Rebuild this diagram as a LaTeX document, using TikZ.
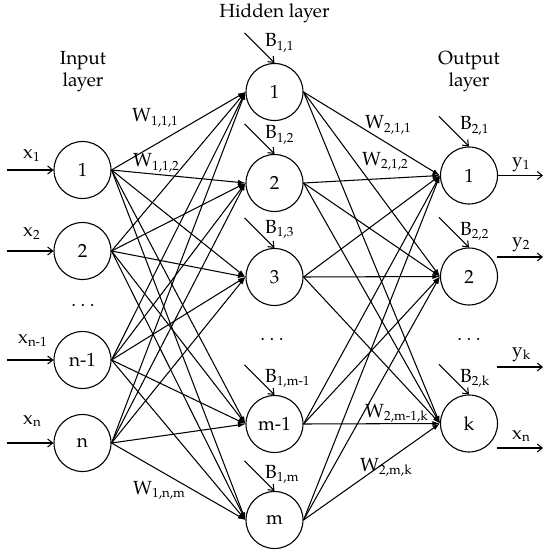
\documentclass[tikz,border=0pt]{standalone}
\usepackage{fontspec}
\setmainfont{TeX Gyre Pagella}
\usetikzlibrary{arrows.meta}
\newcommand{\spdots}{.\hspace{4.5pt}.\hspace{4.5pt}.}
\begin{document}
\begin{tikzpicture}[x=1pt,y=-1pt,
  every node/.style={font=\fontsize{19}{22}\selectfont},
  neuron/.style={draw, circle, minimum size=57pt, inner sep=0pt, line width=1.1pt},
  edge/.style={line width=1.05pt, -{Latex[length=7.5pt,width=5pt]}},
  barb/.style={line width=1.05pt, -{Straight Barb[length=5pt,width=8pt]}},
  lbl/.style={anchor=base west, inner sep=0pt},
  ttl/.style={anchor=base, inner sep=0pt}]
\useasboundingbox (0,0) rectangle (550,556);

% titles
\node[ttl] (thid) at (274.5,18) {Hidden layer};
\node[ttl] (tin1) at (83,65) {Input};
\node[ttl] (tin2) at (83,87) {layer};
\node[ttl] (tout1) at (469,65) {Output};
\node[ttl] (tout2) at (469,87) {layer};

% input layer
\node[neuron] (i1) at (82.5,170) {1};
\node[neuron] (i2) at (82.5,251) {2};
\node[neuron] (i3) at (82.5,360) {n-1};
\node[neuron] (i4) at (82.5,443) {n};
\node[ttl] (idots) at (83,306) {\spdots};

% hidden layer
\node[neuron] (h1) at (274.5,92) {1};
\node[neuron] (h2) at (274.5,183) {2};
\node[neuron] (h3) at (274.5,277) {3};
\node[neuron] (h4) at (274.5,424) {m-1};
\node[neuron] (h5) at (274.5,520) {m};
\node[ttl] (hdots) at (272,340) {\spdots};

% output layer
\node[neuron] (o1) at (469,175.5) {1};
\node[neuron] (o2) at (469,276.5) {2};
\node[neuron] (o3) at (469,423.5) {k};
\node[ttl] (odots) at (469,340) {\spdots};

% connections
\foreach \a in {i1,i2,i3,i4}
  \foreach \b in {h1,h2,h3,h4,h5}
    \draw[edge] (\a.east) -- (\b.west);
\foreach \a in {h1,h2,h3,h4,h5}
  \foreach \b in {o1,o2,o3}
    \draw[edge] (\a.east) -- (\b.west);

% inputs
\foreach \n in {i1,i2,i3,i4}
  \coordinate (s\n) at (7,0 |- \n.west);
\foreach \n in {i1,i2,i3,i4}
  \draw[barb] (s\n) -- (\n.west);
\node[lbl] (lx1) at (23,158) {x\textsubscript{1}};
\node[lbl] (lx2) at (23,236) {x\textsubscript{2}};
\node[lbl] (lx3) at (18,343) {x\textsubscript{n-1}};
\node[lbl] (lx4) at (23,424) {x\textsubscript{n}};

% biases
\foreach \n in {h1,h2,h3,h4,h5,o1,o2,o3}
  \draw[barb] ([shift={(-30,-30)}]\n.north) -- (\n.north);
\node[lbl] (b11) at (265,47) {B\textsubscript{1,1}};
\node[lbl] (b12) at (265,139) {B\textsubscript{1,2}};
\node[lbl] (b13) at (265,233) {B\textsubscript{1,3}};
\node[lbl] (b14) at (265,382) {B\textsubscript{1,m-1}};
\node[lbl] (b15) at (265,478) {B\textsubscript{1,m}};
\node[lbl] (b21) at (460,130) {B\textsubscript{2,1}};
\node[lbl] (b22) at (460,235) {B\textsubscript{2,2}};
\node[lbl] (b23) at (460,382) {B\textsubscript{2,k}};

% outputs
\coordinate (y1a) at (497,175.5);
\coordinate (y1b) at (543,175.5);
\coordinate (y2a) at (497,257);
\coordinate (y2b) at (543,257);
\coordinate (y3a) at (497,367);
\coordinate (y3b) at (543,367);
\coordinate (y4a) at (497,448);
\coordinate (y4b) at (543,448);
\draw[barb] (y1a) -- (y1b);
\draw[barb] (y2a) -- (y2b);
\draw[barb] (y3a) -- (y3b);
\draw[barb] (y4a) -- (y4b);
\node[lbl] (ly1) at (512,166) {y\textsubscript{1}};
\node[lbl] (ly2) at (512,246) {y\textsubscript{2}};
\node[lbl] (ly3) at (512,356) {y\textsubscript{k}};
\node[lbl] (ly4) at (512,439) {x\textsubscript{n}};

% weight labels
\node[lbl] (w111) at (132,122) {W\textsubscript{1,1,1}};
\node[lbl] (w112) at (133,167) {W\textsubscript{1,1,2}};
\node[lbl] (w1nm) at (133,494) {W\textsubscript{1,n,m}};
\node[lbl] (w211) at (365,129) {W\textsubscript{2,1,1}};
\node[lbl] (w212) at (362,165) {W\textsubscript{2,1,2}};
\node[lbl] (w2mk1) at (365,417) {W\textsubscript{2,m-1,k}};
\node[lbl] (w2mk) at (360,471) {W\textsubscript{2,m,k}};
\end{tikzpicture}
\end{document}
